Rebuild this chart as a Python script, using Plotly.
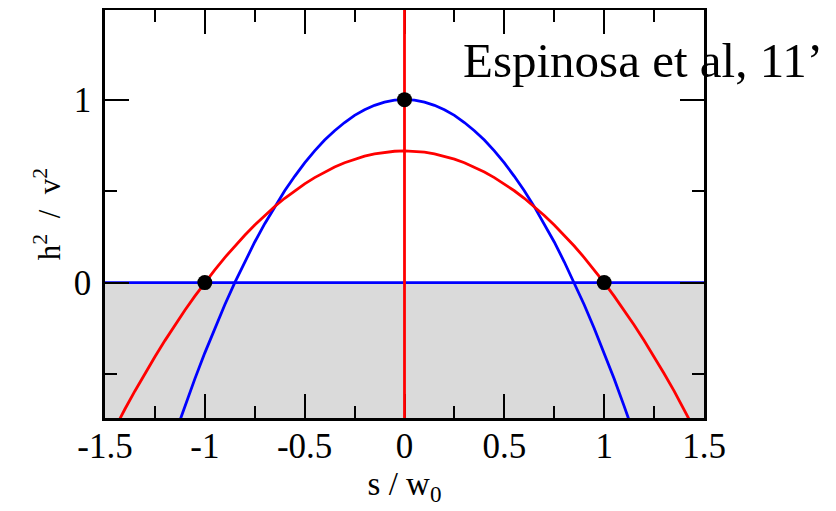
import plotly.graph_objects as go

# data
s_blue = [-1.15, -1.10, -1.05, -1.00, -0.95, -0.90, -0.85, -0.80, -0.75, -0.70, -0.65, -0.60, -0.55, -0.50,
          -0.45, -0.40, -0.35, -0.30, -0.25, -0.20, -0.15, -0.10, -0.05, 0.00,
          0.05, 0.10, 0.15, 0.20, 0.25, 0.30, 0.35, 0.40, 0.45, 0.50, 0.55, 0.60, 0.65, 0.70,
          0.75, 0.80, 0.85, 0.90, 0.95, 1.00, 1.05, 1.10, 1.15]
blue_h2 = [-0.830, -0.675, -0.526, -0.384, -0.249, -0.121, 0.000, 0.114, 0.222, 0.322, 0.415, 0.502, 0.581, 0.654,
           0.720, 0.779, 0.830, 0.875, 0.914, 0.945, 0.969, 0.986, 0.997, 1.000,
           0.997, 0.986, 0.969, 0.945, 0.914, 0.875, 0.830, 0.779, 0.720, 0.654, 0.581, 0.502, 0.415, 0.322,
           0.222, 0.114, 0.000, -0.121, -0.249, -0.384, -0.526, -0.675, -0.830]
s_red = [-1.50, -1.45, -1.40, -1.35, -1.30, -1.25, -1.20, -1.15, -1.10, -1.05, -1.00, -0.95, -0.90, -0.85,
         -0.80, -0.75, -0.70, -0.65, -0.60, -0.55, -0.50, -0.45, -0.40, -0.35, -0.30, -0.25, -0.20, -0.15,
         -0.10, -0.05, 0.00, 0.05, 0.10, 0.15, 0.20, 0.25, 0.30, 0.35, 0.40, 0.45, 0.50, 0.55, 0.60, 0.65,
         0.70, 0.75, 0.80, 0.85, 0.90, 0.95, 1.00, 1.05, 1.10, 1.15, 1.20, 1.25, 1.30, 1.35, 1.40, 1.45, 1.50]
red_h2 = [-0.900, -0.794, -0.691, -0.592, -0.497, -0.405, -0.317, -0.232, -0.151, -0.074, 0.000, 0.070, 0.137, 0.200,
          0.259, 0.315, 0.367, 0.416, 0.461, 0.502, 0.540, 0.574, 0.605, 0.632, 0.655, 0.675, 0.691, 0.704,
          0.713, 0.718, 0.720, 0.718, 0.713, 0.704, 0.691, 0.675, 0.655, 0.632, 0.605, 0.574, 0.540, 0.502, 0.461, 0.416,
          0.367, 0.315, 0.259, 0.200, 0.137, 0.070, 0.000, -0.074, -0.151, -0.232, -0.317, -0.405, -0.497, -0.592, -0.691, -0.794, -0.900]
vert_s = [0.0, 0.0]
vert_h2 = [-0.74, 1.49]
flat_s = [-1.5, 1.5]
flat_h2 = [0.0, 0.0]
dot_s = [0.0, -1.0, 1.0]
dot_h2 = [1.0, 0.0, 0.0]
x_range = [-1.5, 1.5]
y_range = [-0.74, 1.49]
x_ticks = [-1.5, -1, -0.5, 0, 0.5, 1, 1.5]
x_ticklabels = ["-1.5", "-1", "-0.5", "0", "0.5", "1", "1.5"]
y_ticks = [0, 1]
y_ticklabels = ["0", "1"]

FONT = "Liberation Serif"
RED = "#ff0000"
BLUE = "#0000ff"

fig = go.Figure()
fig.add_shape(type="rect", xref="x domain", yref="y", x0=0, x1=1, y0=y_range[0], y1=0,
              fillcolor="#dadada", line_width=0, layer="below")
fig.add_trace(go.Scatter(x=flat_s, y=flat_h2, mode="lines", line=dict(color=BLUE, width=2.8)))
fig.add_trace(go.Scatter(x=vert_s, y=vert_h2, mode="lines", line=dict(color=RED, width=2.8)))
fig.add_trace(go.Scatter(x=s_blue, y=blue_h2, mode="lines", line=dict(color=BLUE, width=2.8)))
fig.add_trace(go.Scatter(x=s_red, y=red_h2, mode="lines", line=dict(color=RED, width=2.8)))
fig.add_trace(go.Scatter(x=dot_s, y=dot_h2, mode="markers", marker=dict(color="black", size=15),
                         cliponaxis=False))

axis_common = dict(showline=True, linecolor="black", linewidth=2.5, mirror="allticks",
                   ticks="inside", ticklen=24, tickwidth=2, tickcolor="black",
                   showgrid=False, zeroline=False, automargin=False,
                   tickfont=dict(family=FONT, size=35, color="black"))

fig.update_xaxes(range=x_range, tickvals=x_ticks, ticktext=x_ticklabels,
                 minor=dict(dtick=0.25, tick0=0, ticks="inside", ticklen=12, tickwidth=2, tickcolor="black"),
                 title=dict(text="s / w<sub>0</sub>", font=dict(family=FONT, size=33, color="black"), standoff=6),
                 ticklabelstandoff=-5, layer="below traces",
                 **axis_common)
fig.update_yaxes(range=y_range, tickvals=y_ticks, ticktext=y_ticklabels,
                 minor=dict(dtick=0.5, tick0=0, ticks="inside", ticklen=12, tickwidth=2, tickcolor="black"),
                 title=dict(text="h<sup>2</sup>  /  v<sup>2</sup>", font=dict(family=FONT, size=31, color="black"), standoff=4),
                 ticklabelstandoff=4,
                 **axis_common)

fig.add_annotation(text="Espinosa et al, 11’", xref="paper", yref="paper",
                   x=0.594, y=0.876, xanchor="left", yanchor="middle", showarrow=False,
                   font=dict(family=FONT, size=49, color="black"))

fig.update_layout(width=846, height=511, margin=dict(l=97, r=150, t=2, b=101),
                  paper_bgcolor="white", plot_bgcolor="white", showlegend=False)

fig.write_html("out.html")
